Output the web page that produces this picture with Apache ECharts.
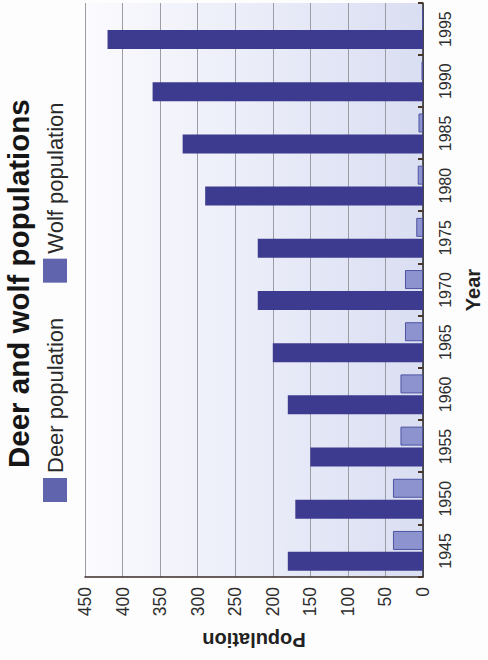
<!DOCTYPE html>
<html>
<head>
<meta charset="utf-8">
<script src="https://cdn.jsdelivr.net/npm/echarts@6/dist/echarts.min.js"></script>
<style>
  html, body { margin: 0; padding: 0; background: #fdfdfd; }
  #wrap { position: relative; width: 488px; height: 660px; overflow: hidden; }
  #chart { position: absolute; left: 0; top: 0; width: 660px; height: 488px;
           transform-origin: 0 0; transform: translateY(660px) rotate(-90deg); }
</style>
</head>
<body>
<div id="wrap"><div id="chart"></div></div>
<script>
const titleText = 'Deer and wolf populations';
const years = ['1945','1950','1955','1960','1965','1970','1975','1980','1985','1990','1995'];
const deerPopulation = [180, 170, 150, 180, 200, 220, 220, 290, 320, 360, 420];
const wolfPopulation = [40, 40, 30, 30, 24, 24, 9, 7, 6, 2, 1];
const seriesNames = ['Deer population', 'Wolf population'];
const valueTicks = { min: 0, max: 450, interval: 50 };

const FONT = '"Liberation Sans", Arial, Helvetica, sans-serif';
const chart = echarts.init(document.getElementById('chart'), null, { renderer: 'svg' });
chart.setOption({
  backgroundColor: '#fdfdfd',
  animation: false,
  textStyle: { fontFamily: FONT },
  title: {
    text: titleText, left: 192, top: 3, padding: 0,
    textStyle: { fontFamily: FONT, fontSize: 29.5, fontWeight: 'bold', color: '#161616' }
  },
  legend: {
    left: 158, top: 43, padding: 0, itemWidth: 24, itemHeight: 24, itemGap: 35,
    icon: 'rect',
    textStyle: { fontFamily: FONT, fontSize: 22, color: '#2a2a2a' },
    data: [
      { name: seriesNames[0], itemStyle: { color: '#5f64ad', borderWidth: 0 } },
      { name: seriesNames[1], itemStyle: { color: '#5f64ad', borderWidth: 0 } }
    ]
  },
  grid: {
    left: 83, right: 3, top: 85, bottom: 63, show: true, borderWidth: 0,
    backgroundColor: new echarts.graphic.LinearGradient(0, 0, 0, 1, [
      { offset: 0, color: '#fbfbfe' },
      { offset: 0.45, color: '#eceef9' },
      { offset: 1, color: '#dadef2' }
    ])
  },
  xAxis: {
    type: 'category', data: years, boundaryGap: true,
    axisLine: { show: true, lineStyle: { color: '#2b2b2b', width: 1.5 } },
    axisTick: { show: true, inside: true, length: 5, lineStyle: { color: '#4a3626', width: 2 } },
    axisLabel: { fontFamily: FONT, fontSize: 16, margin: 14, color: '#2e2e2e' },
    name: 'Year', nameLocation: 'middle', nameGap: 40,
    nameTextStyle: { fontFamily: FONT, fontSize: 20, fontWeight: 'bold', color: '#222' }
  },
  yAxis: {
    type: 'value', min: valueTicks.min, max: valueTicks.max, interval: valueTicks.interval,
    axisLine: { show: true, lineStyle: { color: '#3a2c28', width: 1.5 } },
    axisTick: { show: false },
    splitLine: { show: true, lineStyle: { color: '#9c9ca4', width: 1 } },
    axisLabel: { fontFamily: FONT, fontSize: 17.5, margin: 10, color: '#2e2e2e' },
    name: 'Population', nameLocation: 'middle', nameGap: 53,
    nameTextStyle: { fontFamily: FONT, fontSize: 20, fontWeight: 'bold', color: '#222' }
  },
  series: [
    {
      name: seriesNames[0], type: 'bar', data: deerPopulation,
      barWidth: 19, barGap: '10%',
      itemStyle: { color: '#3d3b8f' }
    },
    {
      name: seriesNames[1], type: 'bar', data: wolfPopulation,
      barWidth: 19,
      itemStyle: { color: '#8c93cf', borderColor: '#4f54a2', borderWidth: 1 }
    }
  ]
});
</script>
</body>
</html>
